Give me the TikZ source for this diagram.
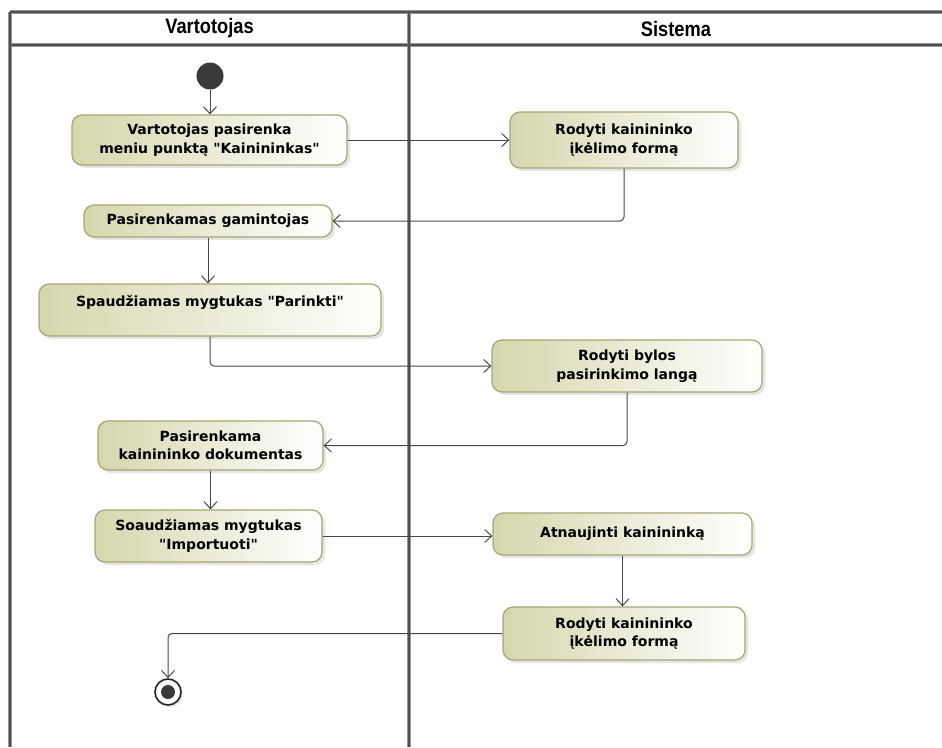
\documentclass[tikz,border=0pt]{standalone}
\usepackage{fontspec}
\setmainfont{DejaVu Sans}
\newfontfamily\lanefont[FakeStretch=0.87]{Liberation Sans}
\usetikzlibrary{arrows.meta,shadows}

\definecolor{actfill}{RGB}{214,214,174}
\definecolor{actdraw}{RGB}{166,166,112}
\definecolor{laneouter}{RGB}{150,150,150}
\definecolor{laneinner}{RGB}{80,80,80}
\definecolor{flowgray}{RGB}{72,72,72}
\definecolor{dotgray}{RGB}{58,58,58}

\newcommand{\dq}{\textquotedbl}

\begin{document}
\begin{tikzpicture}[x=1pt,y=-1pt,
  lane/.style={line width=4.5pt, draw=laneouter},
  laneline/.style={line width=2pt, draw=laneinner},
  lanetitle/.style={font=\lanefont\bfseries\fontsize{21}{23}\selectfont, inner sep=0pt},
  action/.style={rectangle, rounded corners=10pt, draw=actdraw, line width=1.2pt,
    left color=actfill, right color=white, align=center, inner sep=0pt,
    font=\bfseries\fontsize{14}{18.5}\selectfont,
    drop shadow={shadow xshift=3pt, shadow yshift=-3pt, fill=black!20}},
  flow/.style={draw=flowgray, line width=1pt, rounded corners=4pt,
    -{Straight Barb[length=7pt,width=13pt,line width=1pt]}},
  startnode/.style={circle, fill=dotgray, minimum size=27pt, inner sep=0pt},
  endring/.style={circle, draw=black!85, line width=1.6pt, fill=white,
    minimum size=26pt, inner sep=0pt,
    drop shadow={shadow xshift=2pt, shadow yshift=-2pt, fill=black!20}},
  enddot/.style={circle, fill=dotgray, minimum size=14pt, inner sep=0pt}]

\useasboundingbox (0,0) rectangle (942,747);

% swimlane frame
\foreach \pass in {lane,laneline}{
  \draw[\pass] (10,12) -- (942,12);
  \draw[\pass] (10,45) -- (942,45);
  \draw[\pass] (10,12) -- (10,747);
  \draw[\pass] (409,12) -- (409,747);
}
\node[lanetitle] (laneA) at (209.5,28.5) {Vartotojas};
\node[lanetitle] (laneB) at (676,28.5) {Sistema};

% start and end
\node[startnode] (init) at (210,76) {};
\node[endring] (fin) at (168,692) {};
\node[enddot] (findot) at (fin) {};

% actions
\node[action, minimum width=275pt, minimum height=50pt] (a1) at (209.5,140)
  {Vartotojas pasirenka\\meniu punktą \dq Kainininkas\dq};
\node[action, minimum width=228pt, minimum height=56pt] (a2) at (624,140)
  {Rodyti kainininko\\įkėlimo formą};
\node[action, minimum width=248pt, minimum height=32pt] (a3) at (208,221)
  {Pasirenkamas gamintojas};
\node[action, minimum width=342pt, minimum height=52pt] (a4) at (210,310)
  {Spaudžiamas mygtukas \dq Parinkti\dq\\\mbox{}};
\node[action, minimum width=270pt, minimum height=52pt] (a5) at (627,366)
  {Rodyti bylos\\pasirinkimo langą};
\node[action, minimum width=225pt, minimum height=49pt] (a6) at (210.5,445.5)
  {Pasirenkama\\kainininko dokumentas};
\node[action, minimum width=227pt, minimum height=52pt] (a7) at (208.5,536)
  {Soaudžiamas mygtukas\\\dq Importuoti\dq};
\node[action, minimum width=259pt, minimum height=42pt] (a8) at (622.5,534)
  {Atnaujinti kainininką};
\node[action, minimum width=242pt, minimum height=53pt] (a9) at (624,633.5)
  {Rodyti kainininko\\įkėlimo formą};

% control flows
\draw[flow] (init) -- (a1.north -| init);
\draw[flow] (a1.east) -- (a2.west);
\draw[flow] (a2.south) |- (a3.east);
\draw[flow] (a3.south) -- (a3.south |- a4.north);
\draw[flow] (a4.south) |- (a5.west);
\draw[flow] (a5.south) |- (a6.east);
\draw[flow] (a6.south) -- (a6.south |- a7.north);
\draw[flow] (a7.east) -- (a7.east -| a8.west);
\draw[flow] (a8.south) -- (a8.south |- a9.north);
\draw[flow] (a9.west) -| (fin.north);
\end{tikzpicture}
\end{document}
